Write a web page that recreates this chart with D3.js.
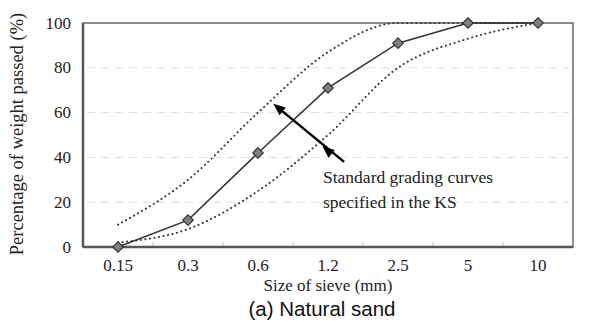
<!DOCTYPE html>
<html>
<head>
<meta charset="utf-8">
<script src="https://cdn.jsdelivr.net/npm/d3@7"></script>
<style>
  body { margin: 0; background: #fff; }
  svg { display: block; }
  .tick-lbl, .ax-title { font-family: "Liberation Serif", "Times New Roman", serif; fill: #222; }
</style>
</head>
<body>
<div id="chart"></div>
<script>
////////////////////// DATA //////////////////////

// sieve sizes (mm)
var sieves = ["0.15", "0.3", "0.6", "1.2", "2.5", "5", "10"];
// natural sand grading (%)
var passed = [0, 12, 42, 71, 91, 100, 100];
// KS standard limits
var upperLimit = [10, 30, 60, 87, 100, 100, 100];
var lowerLimit = [2, 8, 25, 50, 80, 93, 100];
var yTicks = [0, 20, 40, 60, 80, 100];

////////////////////// SETUP //////////////////////

var W = 591, H = 328;
var margin = {left: 83, right: 18, top: 23, bottom: 81};

var svg = d3.select("#chart").append("svg")
    .attr("width", W).attr("height", H);

var x = d3.scaleBand().domain(sieves).range([margin.left, W - margin.right]);
var y = d3.scaleLinear().domain([0, 100]).range([H - margin.bottom, margin.top]);
var cx = function(i) { return x(sieves[i]) + x.bandwidth() / 2; };

// fractional category position, for the annotation arrow
var xf = function(t) {
  return x(sieves[0]) + x.bandwidth() / 2 + t * x.step();
};

// grid
svg.append("g").selectAll("line")
  .data(yTicks.filter(function(d) { return d > 0 && d < 100; }))
  .enter().append("line")
    .attr("x1", margin.left + 4).attr("x2", W - margin.right - 4)
    .attr("y1", function(d) { return y(d); })
    .attr("y2", function(d) { return y(d); })
    .attr("stroke", "#ddd").attr("stroke-width", 1)
    .attr("stroke-dasharray", "8,6");

// x tick marks at category boundaries
svg.append("g").selectAll("line")
  .data(sieves.slice(1))
  .enter().append("line")
    .attr("x1", function(d) { return x(d); })
    .attr("x2", function(d) { return x(d); })
    .attr("y1", y(0)).attr("y2", y(0) - 5)
    .attr("stroke", "#bbb").attr("stroke-width", 1);

// frame
svg.append("rect")
  .attr("x", margin.left).attr("y", margin.top)
  .attr("width", W - margin.left - margin.right)
  .attr("height", H - margin.top - margin.bottom)
  .attr("fill", "none").attr("stroke", "#666").attr("stroke-width", 1.5);
svg.append("line")
  .attr("x1", margin.left).attr("x2", W - margin.right)
  .attr("y1", y(0)).attr("y2", y(0))
  .attr("stroke", "#555").attr("stroke-width", 2.5);
svg.append("line")
  .attr("x1", margin.left).attr("x2", margin.left)
  .attr("y1", y(0)).attr("y2", y(100))
  .attr("stroke", "#555").attr("stroke-width", 2.5);

// tick labels
svg.append("g").selectAll("text")
  .data(sieves).enter().append("text")
    .attr("class", "tick-lbl")
    .attr("x", function(d, i) { return cx(i); })
    .attr("y", y(0) + 24)
    .attr("text-anchor", "middle")
    .attr("font-size", 17)
    .text(function(d) { return d; });

svg.append("g").selectAll("text")
  .data(yTicks).enter().append("text")
    .attr("class", "tick-lbl")
    .attr("x", margin.left - 12)
    .attr("y", function(d) { return y(d) + 5.5; })
    .attr("text-anchor", "end")
    .attr("font-size", 17)
    .text(function(d) { return d; });

// axis titles
svg.append("text")
  .attr("class", "ax-title")
  .attr("x", 328).attr("y", 291)
  .attr("text-anchor", "middle").attr("font-size", 17)
  .text("Size of sieve (mm)");

svg.append("text")
  .attr("class", "ax-title")
  .attr("transform", "translate(23,134) rotate(-90)")
  .attr("text-anchor", "middle").attr("font-size", 18.5)
  .text("Percentage of weight passed (%)");

svg.append("text")
  .attr("x", 322).attr("y", 316)
  .attr("text-anchor", "middle")
  .attr("font-family", "'Liberation Sans', Arial, sans-serif")
  .attr("font-size", 20.5).attr("fill", "#111")
  .text("(a) Natural sand");

////////////////////// CURVES //////////////////////

var limitLine = d3.line()
  .x(function(d, i) { return cx(i); })
  .y(function(d) { return y(d); })
  .curve(d3.curveMonotoneX);

[upperLimit, lowerLimit].forEach(function(arr) {
  svg.append("path")
    .datum(arr)
    .attr("d", limitLine)
    .attr("fill", "none")
    .attr("stroke", "#333")
    .attr("stroke-width", 2)
    .attr("stroke-linecap", "round")
    .attr("stroke-dasharray", "0.1,4.5");
});

var mainLine = d3.line()
  .x(function(d, i) { return cx(i); })
  .y(function(d) { return y(d); });

svg.append("path")
  .datum(passed)
  .attr("d", mainLine)
  .attr("fill", "none")
  .attr("stroke", "#333")
  .attr("stroke-width", 1.5);

svg.append("g").selectAll("path")
  .data(passed).enter().append("path")
    .attr("d", d3.symbol().type(d3.symbolDiamond2).size(70))
    .attr("transform", function(d, i) { return "translate(" + cx(i) + "," + y(d) + ")"; })
    .attr("fill", "#808080")
    .attr("stroke", "#333")
    .attr("stroke-width", 1.2);

////////////////////// ANNOTATION //////////////////////

var tip = [xf(2.22), y(64)];
var tail = [xf(3.23), y(38)];
var mid = [xf(2.92), y(45)];

svg.append("line")
  .attr("x1", tail[0]).attr("y1", tail[1])
  .attr("x2", tip[0] + 4).attr("y2", tip[1] + 3.5)
  .attr("stroke", "#000").attr("stroke-width", 2.5);

function arrowHead(p) {
  var ang = Math.atan2(tail[1] - tip[1], tail[0] - tip[0]);
  var len = 12, wid = 5;
  var bx = p[0] + len * Math.cos(ang), by = p[1] + len * Math.sin(ang);
  var nx = -Math.sin(ang) * wid, ny = Math.cos(ang) * wid;
  svg.append("path")
    .attr("d", "M" + p[0] + "," + p[1] + "L" + (bx + nx) + "," + (by + ny) +
               "L" + (bx - nx) + "," + (by - ny) + "Z")
    .attr("fill", "#000");
}
arrowHead(tip);
arrowHead(mid);

svg.append("text")
  .attr("class", "ax-title")
  .attr("x", 323).attr("y", 183)
  .attr("font-size", 17.5)
  .text("Standard grading curves");
svg.append("text")
  .attr("class", "ax-title")
  .attr("x", 323).attr("y", 208)
  .attr("font-size", 17.5)
  .text("specified in the KS");
</script>
</body>
</html>
